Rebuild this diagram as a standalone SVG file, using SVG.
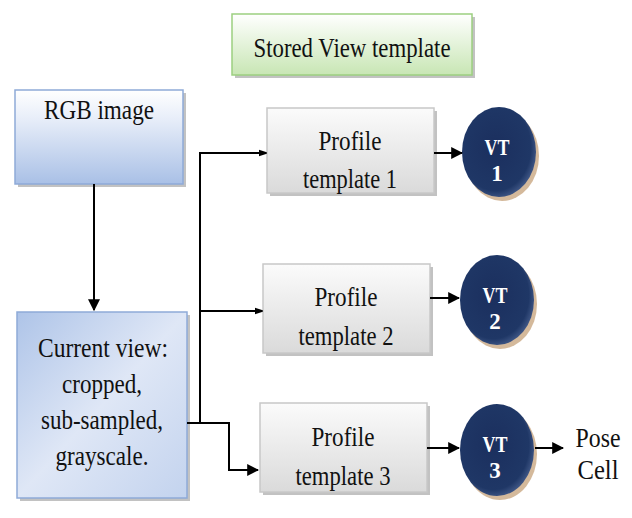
<svg xmlns="http://www.w3.org/2000/svg" width="632" height="518" viewBox="0 0 632 518">
  <defs>
    <linearGradient id="gBlue" x1="0" y1="0" x2="0" y2="1">
      <stop offset="0" stop-color="#ffffff"/>
      <stop offset="0.3" stop-color="#e8eef9"/>
      <stop offset="1" stop-color="#a9c0e6"/>
    </linearGradient>
    <linearGradient id="gBlue2" x1="0" y1="0" x2="1" y2="1">
      <stop offset="0" stop-color="#aec4e8"/>
      <stop offset="0.5" stop-color="#dfe7f6"/>
      <stop offset="1" stop-color="#c3d3ee"/>
    </linearGradient>
    <linearGradient id="gGreen" x1="0" y1="0" x2="0" y2="1">
      <stop offset="0" stop-color="#ffffff"/>
      <stop offset="1" stop-color="#c8e6b4"/>
    </linearGradient>
    <linearGradient id="gGray" x1="0" y1="0" x2="0" y2="1">
      <stop offset="0" stop-color="#fbfbfb"/>
      <stop offset="1" stop-color="#dadada"/>
    </linearGradient>
    <radialGradient id="gNavy" cx="0.45" cy="0.45" r="0.6">
      <stop offset="0" stop-color="#1b2f5e"/>
      <stop offset="0.8" stop-color="#1f3766"/>
      <stop offset="1" stop-color="#4a6190"/>
    </radialGradient>
    <marker id="arr" viewBox="0 0 10 10" refX="9" refY="5" markerWidth="6" markerHeight="6" orient="auto">
      <path d="M0,0 L10,5 L0,10 z" fill="#000"/>
    </marker>
    <marker id="arrS" viewBox="0 0 10 10" refX="9" refY="5" markerWidth="4" markerHeight="4" orient="auto">
      <path d="M0,1 L10,4 L10,6 L0,9 z" fill="#000"/>
    </marker>
  </defs>
  <style>
    .t { font-family: "Liberation Serif", "Times New Roman", serif; font-size: 28px; fill: #111; text-anchor: middle; }
    .w { font-family: "Liberation Serif", "Times New Roman", serif; font-size: 23px; font-weight: bold; fill: #fff; text-anchor: middle; }
    .sh { fill: #9a9a9a; opacity: 0.6; }
    .ln { fill: none; stroke: #000; stroke-width: 2; }
  </style>
  <rect width="632" height="518" fill="#fff"/>

  <g id="stored-view">
    <rect class="sh" x="235" y="17" width="240" height="61"/>
    <rect x="232" y="14" width="240" height="61" fill="url(#gGreen)" stroke="#9ccf80" stroke-width="1.5"/>
    <text class="t" x="352" y="57" font-size="27" textLength="197" lengthAdjust="spacingAndGlyphs">Stored View template</text>
  </g>

  <g id="rgb-image">
    <rect class="sh" x="18" y="93" width="168" height="94"/>
    <rect x="15" y="90" width="168" height="94" fill="url(#gBlue)" stroke="#8eaad8" stroke-width="1.5"/>
    <text class="t" x="99" y="119" textLength="110" lengthAdjust="spacingAndGlyphs">RGB image</text>
  </g>

  <g id="current-view">
    <rect class="sh" x="20" y="315" width="170" height="186"/>
    <rect x="17" y="312" width="170" height="186" fill="url(#gBlue2)" stroke="#8eaad8" stroke-width="1.5"/>
    <text class="t" x="103" y="357" textLength="130" lengthAdjust="spacingAndGlyphs">Current view:</text>
    <text class="t" x="102" y="393" textLength="80" lengthAdjust="spacingAndGlyphs">cropped,</text>
    <text class="t" x="102" y="429" textLength="122" lengthAdjust="spacingAndGlyphs">sub-sampled,</text>
    <text class="t" x="102" y="465" textLength="93" lengthAdjust="spacingAndGlyphs">grayscale.</text>
  </g>

  <g id="profile-1">
    <rect class="sh" x="270" y="111" width="167" height="85"/>
    <rect x="267" y="108" width="167" height="85" fill="url(#gGray)" stroke="#c8c8c8" stroke-width="1.5"/>
    <text class="t" x="350" y="150" textLength="63" lengthAdjust="spacingAndGlyphs">Profile</text>
    <text class="t" x="350" y="188" textLength="94" lengthAdjust="spacingAndGlyphs">template 1</text>
  </g>

  <g id="profile-2">
    <rect class="sh" x="266" y="267" width="167" height="89"/>
    <rect x="263" y="264" width="167" height="89" fill="url(#gGray)" stroke="#c8c8c8" stroke-width="1.5"/>
    <text class="t" x="346" y="306" textLength="63" lengthAdjust="spacingAndGlyphs">Profile</text>
    <text class="t" x="346" y="345" textLength="95" lengthAdjust="spacingAndGlyphs">template 2</text>
  </g>

  <g id="profile-3">
    <rect class="sh" x="263" y="406" width="167" height="89"/>
    <rect x="260" y="403" width="167" height="89" fill="url(#gGray)" stroke="#c8c8c8" stroke-width="1.5"/>
    <text class="t" x="343" y="446" textLength="63" lengthAdjust="spacingAndGlyphs">Profile</text>
    <text class="t" x="343" y="485" textLength="95" lengthAdjust="spacingAndGlyphs">template 3</text>
  </g>

  <g id="vt-1">
    <ellipse cx="502" cy="156" rx="37" ry="45" fill="#c9a882" opacity="0.8"/>
    <ellipse cx="499" cy="152" rx="37" ry="45" fill="url(#gNavy)"/>
    <text class="w" x="497" y="155" textLength="25" lengthAdjust="spacingAndGlyphs">VT</text>
    <text class="w" x="497" y="181">1</text>
  </g>

  <g id="vt-2">
    <ellipse cx="500" cy="304" rx="37" ry="45" fill="#c9a882" opacity="0.8"/>
    <ellipse cx="497" cy="300" rx="37" ry="45" fill="url(#gNavy)"/>
    <text class="w" x="495" y="303" textLength="25" lengthAdjust="spacingAndGlyphs">VT</text>
    <text class="w" x="495" y="329">2</text>
  </g>

  <g id="vt-3">
    <ellipse cx="500" cy="454" rx="37" ry="46" fill="#c9a882" opacity="0.8"/>
    <ellipse cx="497" cy="450" rx="37" ry="46" fill="url(#gNavy)"/>
    <text class="w" x="495" y="452" textLength="25" lengthAdjust="spacingAndGlyphs">VT</text>
    <text class="w" x="495" y="478">3</text>
  </g>

  <g id="pose-cell">
    <text class="t" x="598" y="447" textLength="45" lengthAdjust="spacingAndGlyphs">Pose</text>
    <text class="t" x="598" y="479" textLength="41" lengthAdjust="spacingAndGlyphs">Cell</text>
  </g>

  <g id="connectors">
    <path class="ln" d="M94,184 V310" marker-end="url(#arr)"/>
    <path class="ln" d="M200,423 V153 H266" marker-end="url(#arrS)"/>
    <path class="ln" d="M200,311 H262" marker-end="url(#arrS)"/>
    <path class="ln" d="M187,423 H229 V470 H258" marker-end="url(#arr)"/>
    <path class="ln" d="M434,153 H462" marker-end="url(#arr)"/>
    <path class="ln" d="M430,298 H459" marker-end="url(#arr)"/>
    <path class="ln" d="M427,448 H459" marker-end="url(#arr)"/>
    <path class="ln" d="M535,448 H563" marker-end="url(#arr)"/>
  </g>
</svg>
